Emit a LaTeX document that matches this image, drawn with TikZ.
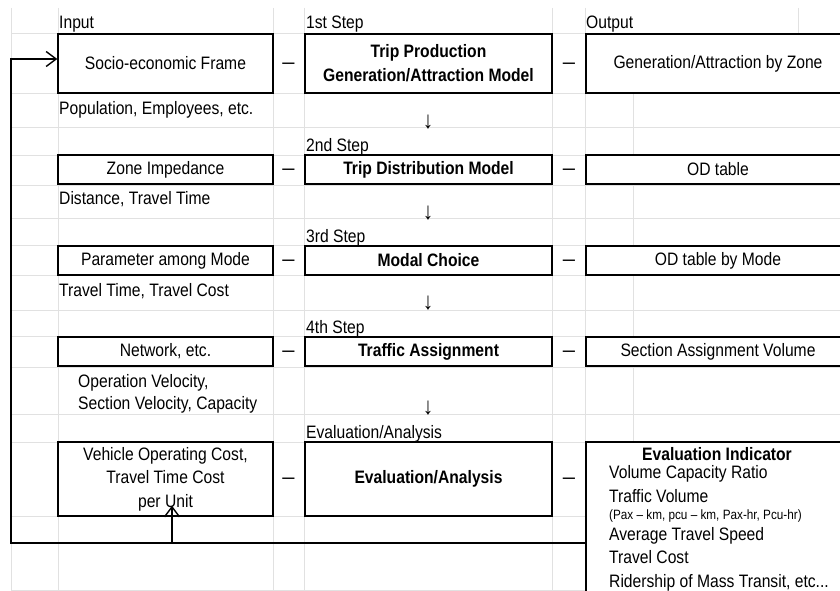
\documentclass[tikz,border=0pt]{standalone}
\usepackage{fontspec}
\setmainfont{Liberation Sans}[FakeStretch=0.87]
\usetikzlibrary{arrows.meta}
\definecolor{gridgray}{RGB}{225,225,225}
\begin{document}
\begin{tikzpicture}[x=1pt,y=-1pt,
  every node/.style={font=\fontsize{18}{20}\selectfont},
  gridln/.style={draw=gridgray, line width=0.9pt},
  box/.style={draw=black, line width=1.4pt, fill=white, inner sep=0pt, align=center},
  lbox/.style={box, minimum width=215pt},
  mbox/.style={box, minimum width=247pt, font=\fontsize{18}{24}\selectfont\bfseries},
  rbox/.style={box, minimum width=264pt},
  lbl/.style={inner sep=0pt, anchor=base west},
  sep/.style={inner sep=0pt, anchor=base, font=\fontsize{14}{15}\selectfont\bfseries},
  down/.style={inner sep=0pt, font=\fontsize{24}{26}\selectfont},
  conn/.style={draw=black, line width=1.4pt, -{Straight Barb[length=10pt,width=15pt]}},
  line/.style={draw=black, line width=1.4pt}]
\useasboundingbox (0,0) rectangle (840,591);
\fill[white] (0,0) rectangle (840,591);
% spreadsheet grid
\foreach \gy in {33,93,127,155,185,218,245,275,310,336,367,414,442,516,590}
  \draw[gridln] (11,\gy) -- (840,\gy);
\foreach \gx in {11,58,273,304,552,585}
  \draw[gridln] (\gx,8) -- (\gx,591);
\draw[gridln] (633,33) -- (633,591);
\draw[gridln] (798,8) -- (798,33);
% column headings
\node[lbl] (hin) at (59,29) {Input};
\node[lbl] (h1) at (306,29) {1st Step};
\node[lbl] (hout) at (586,29) {Output};
\node[lbl] (h2) at (306,151) {2nd Step};
\node[lbl] (h3) at (306,242) {3rd Step};
\node[lbl] (h4) at (306,333) {4th Step};
\node[lbl] (h5) at (306,438) {Evaluation/Analysis};
% row 1
\node[lbox, minimum height=59pt] (socio) at (165.5,63.5) {Socio-economic Frame};
\node[mbox, minimum height=59pt] (trip) at (428.5,63.5) {Trip Production\\Generation/Attraction Model};
\node[rbox, minimum height=59pt] (gen) at (718,63.5) {Generation/Attraction by Zone};
% row 2
\node[lbox, minimum height=29pt] (zone) at (165.5,169.5) {Zone Impedance};
\node[mbox, minimum height=29pt] (dist) at (428.5,169.5) {Trip Distribution Model};
\node[rbox, minimum height=29pt] (od) at (718,169.5) {OD table};
% row 3
\node[lbox, minimum height=29pt] (param) at (165.5,260.5) {Parameter among Mode};
\node[mbox, minimum height=29pt] (modal) at (428.5,260.5) {Modal Choice};
\node[rbox, minimum height=29pt] (odm) at (718,260.5) {OD table by Mode};
% row 4
\node[lbox, minimum height=29pt] (net) at (165.5,351.5) {Network, etc.};
\node[mbox, minimum height=29pt] (assign) at (428.5,351.5) {Traffic Assignment};
\node[rbox, minimum height=29pt] (sav) at (718,351.5) {Section Assignment Volume};
% row 5
\node[lbox, minimum height=74pt, font=\fontsize{18}{23.5}\selectfont] (veh) at (165.5,479) {Vehicle Operating Cost,\\Travel Time Cost\\per Unit};
\node[mbox, minimum height=74pt] (eval) at (428.5,479) {Evaluation/Analysis};
\node[rbox, minimum height=168pt] (ind) at (718,526) {};
\node[inner sep=0pt, anchor=base, font=\fontsize{18}{20}\selectfont\bfseries] (indt) at (717,460) {Evaluation Indicator};
\node[lbl] (i1) at (609,478) {Volume Capacity Ratio};
\node[lbl] (i2) at (609,502) {Traffic Volume};
\node[lbl, font=\fontsize{13.5}{15}\selectfont] (i3) at (609,519) {(Pax – km, pcu – km, Pax-hr, Pcu-hr)};
\node[lbl] (i4) at (609,540) {Average Travel Speed};
\node[lbl] (i5) at (609,563) {Travel Cost};
\node[lbl] (i6) at (609,587) {Ridership of Mass Transit, etc...};
% notes under input boxes
\node[lbl] (s1) at (59,114) {Population, Employees, etc.};
\node[lbl] (s2) at (59,204) {Distance, Travel Time};
\node[lbl] (s3) at (59,296) {Travel Time, Travel Cost};
\node[lbl] (s4) at (78,387) {Operation Velocity,};
\node[lbl] (s5) at (78,409) {Section Velocity, Capacity};
% dashes between boxes
\foreach \ry/\nm in {63.5/a,169.5/b,260.5/c,351.5/d,479/e}{
  \node[sep] (dl\nm) at (288.5,\ry+3.8) {—};
  \node[sep] (dr\nm) at (569,\ry+3.8) {—};
}
% down arrows between steps
\node[down] (d1) at (428,122) {↓};
\node[down] (d2) at (428,213) {↓};
\node[down] (d3) at (428,303) {↓};
\node[down] (d4) at (428,408) {↓};
% feedback connector
\coordinate (fbstart) at (586,543);
\coordinate (fbbranch) at (172,543);
\coordinate (fbleft) at (11,543);
\coordinate (fbtop) at (11,59);
\draw[conn] (fbstart) -- (fbleft) -- (fbtop) -- ([yshift=4.5pt]socio.west);
\draw[conn] (fbbranch) -- ([yshift=11pt]fbbranch |- veh.south);
\end{tikzpicture}
\end{document}
